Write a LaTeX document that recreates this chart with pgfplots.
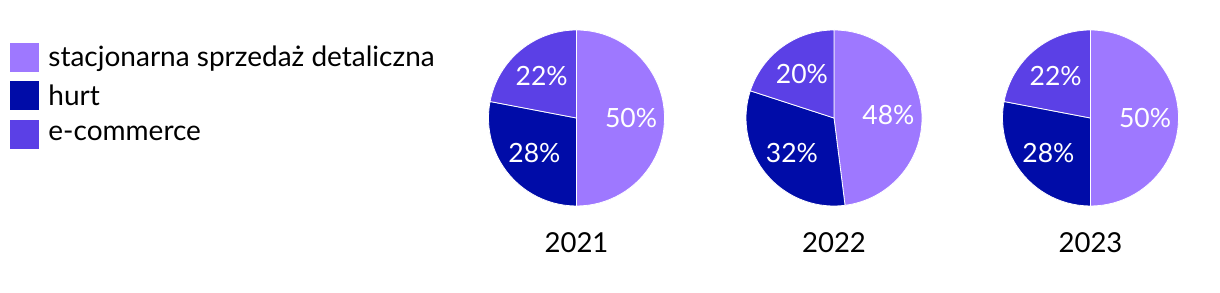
\documentclass[border=0pt]{standalone}
\usepackage{pgfplots}
\pgfplotsset{compat=1.18}
\usepackage{fontspec}
\setmainfont{Lato}
\definecolor{cA}{HTML}{9E78FF}
\definecolor{cB}{HTML}{000CA8}
\definecolor{cC}{HTML}{5B40E6}
% #1 cumulative start (percent), #2 value (percent), #3 colour
\newcommand\slice[3]{%
  \fill[#3, draw=white, line width=0.8pt] (axis cs:0,0) -- ++({90-3.6*#1}:88pt)
     arc[start angle={90-3.6*#1}, delta angle={-3.6*#2}, radius=88pt] -- cycle;
  \node[text=white, font=\fontsize{26.5}{30}\selectfont, inner sep=0pt]
     at (axis cs:{0.62*cos(90-3.6*(#1+#2/2))},{0.62*sin(90-3.6*(#1+#2/2))}) {#2\%};
}
\pgfplotsset{pie/.style={anchor=center, scale only axis, width=176pt, height=176pt,
  xmin=-1, xmax=1, ymin=-1, ymax=1, hide axis, clip=false}}
\begin{document}
\begin{tikzpicture}
\useasboundingbox (0,0) rectangle (1220pt,292pt);
% legend
\begin{axis}[at={(0,0)}, anchor=south west, scale only axis, width=1220pt, height=292pt,
  xmin=0, xmax=1, ymin=0, ymax=1, hide axis,
  legend style={at={(10/1220,249/292)}, anchor=north west, draw=none, fill=none,
    inner sep=0pt, outer sep=0pt, row sep=10pt,
    font=\fontsize{28}{32}\selectfont,
    nodes={inner sep=0pt},
    /tikz/every odd column/.append style={column sep=10pt}},
  legend cell align=left]
\addlegendimage{legend image code/.code={\fill[cA] (0pt,-14pt) rectangle (28pt,14pt);}}
\addlegendentry{stacjonarna sprzedaż detaliczna}
\addlegendimage{legend image code/.code={\fill[cB] (0pt,-14pt) rectangle (28pt,14pt);}}
\addlegendentry{hurt}
\addlegendimage{legend image code/.code={\fill[cC] (0pt,-14pt) rectangle (28pt,14pt);}}
\addlegendentry{e-commerce}
\end{axis}
% 2021
\begin{axis}[pie, at={(576.5pt,174pt)}]
\slice{0}{50}{cA}
\slice{50}{28}{cB}
\slice{78}{22}{cC}
\node[font=\fontsize{27.5}{32}\selectfont, anchor=base] at (axis cs:0,-1.534) {2021};
\end{axis}
% 2022
\begin{axis}[pie, at={(834pt,174pt)}]
\slice{0}{48}{cA}
\slice{48}{32}{cB}
\slice{80}{20}{cC}
\node[font=\fontsize{27.5}{32}\selectfont, anchor=base] at (axis cs:0,-1.534) {2022};
\end{axis}
% 2023
\begin{axis}[pie, at={(1090.5pt,174pt)}]
\slice{0}{50}{cA}
\slice{50}{28}{cB}
\slice{78}{22}{cC}
\node[font=\fontsize{27.5}{32}\selectfont, anchor=base] at (axis cs:0,-1.534) {2023};
\end{axis}
\end{tikzpicture}
\end{document}
